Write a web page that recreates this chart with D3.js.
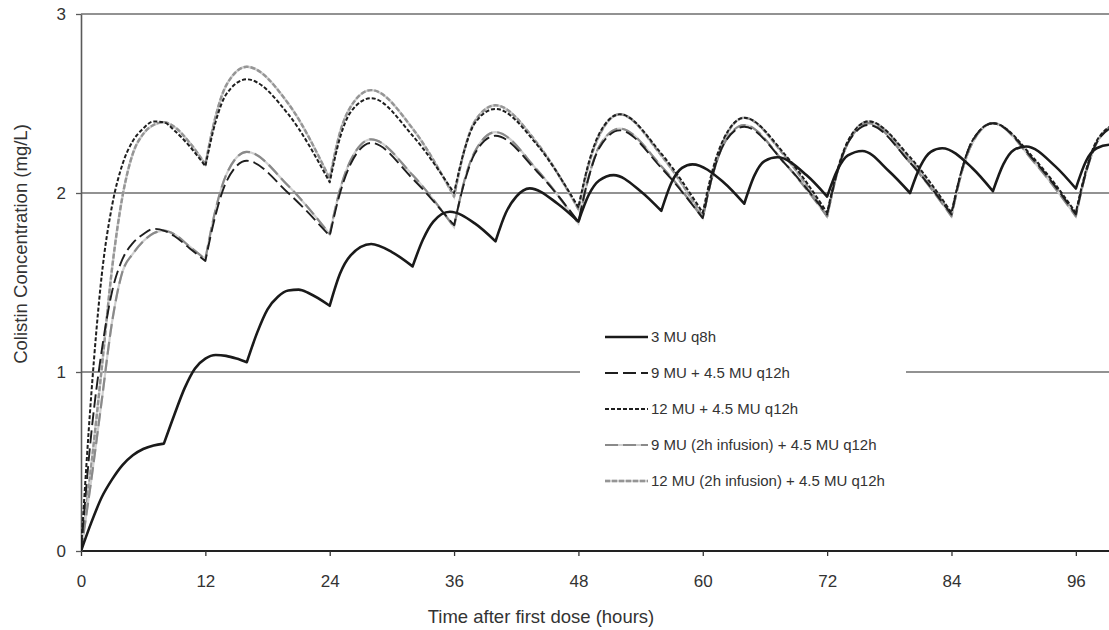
<!DOCTYPE html>
<html>
<head>
<meta charset="utf-8">
<script src="https://cdn.jsdelivr.net/npm/d3@7"></script>
<style>
  body { margin: 0; background: #fff; }
  svg { display: block; font-family: "Liberation Sans", Arial, sans-serif; }
</style>
</head>
<body>
<div id="chart"></div>
<script>
// 3 MU q8h
const timesQ8 = [0, 1, 2, 3, 4, 5, 6, 7, 8,
    9, 10, 11, 12, 13, 14, 15, 16,
    17, 18, 19, 20, 21, 22, 24,
    25, 26, 28, 30, 32,
    33, 34, 35.6, 38, 40,
    41, 42, 43.3, 46, 48,
    49, 50, 51.4, 54, 56,
    57, 58, 59, 62, 64,
    65, 66, 67.2, 70, 72,
    73, 74, 75.4, 78, 80,
    81, 82, 83.1, 86, 88,
    89, 90, 91.2, 94, 96,
    97, 98, 99.3, 100];
const conc3MU = [0, 0.16, 0.30, 0.40, 0.48, 0.535, 0.57, 0.59, 0.60,
    0.76, 0.91, 1.02, 1.075, 1.095, 1.09, 1.075, 1.055,
    1.22, 1.35, 1.42, 1.455, 1.46, 1.44, 1.37,
    1.55, 1.65, 1.715, 1.67, 1.59,
    1.74, 1.84, 1.895, 1.83, 1.73,
    1.89, 1.98, 2.026, 1.94, 1.84,
    1.99, 2.07, 2.10, 2.01, 1.90,
    2.06, 2.14, 2.16, 2.06, 1.94,
    2.10, 2.18, 2.20, 2.10, 1.98,
    2.13, 2.21, 2.235, 2.12, 2.00,
    2.15, 2.23, 2.25, 2.14, 2.01,
    2.16, 2.24, 2.26, 2.15, 2.025,
    2.18, 2.25, 2.27, 2.27];
const dosesQ8 = [8, 16, 24, 32, 40, 48, 56, 64, 72, 80, 88, 96];

// loading dose + 4.5 MU q12h
const timesQ12 = [0, 1, 2, 3, 4, 5, 6, 7, 8, 9, 10.5, 12,
    13, 14, 16, 20, 24,
    25, 26, 28, 32, 36,
    37, 38, 40, 44, 48,
    49, 50, 52, 56, 60,
    61, 62, 64, 68, 72,
    73, 74, 76, 80, 84,
    85, 86, 88, 92, 96,
    97, 98, 100];
const conc9MU = [0, 0.66, 1.12, 1.45, 1.63, 1.72, 1.77, 1.80, 1.79, 1.76, 1.69, 1.62,
    1.88, 2.06, 2.18, 2.00, 1.76,
    2.00, 2.16, 2.28, 2.08, 1.82,
    2.06, 2.22, 2.32, 2.12, 1.84,
    2.09, 2.25, 2.35, 2.14, 1.86,
    2.11, 2.27, 2.37, 2.16, 1.88,
    2.12, 2.28, 2.38, 2.17, 1.88,
    2.13, 2.29, 2.39, 2.18, 1.88,
    2.12, 2.28, 2.38];
const conc12MU = [0, 0.88, 1.54, 1.93, 2.16, 2.29, 2.36, 2.40, 2.395, 2.35, 2.26, 2.15,
    2.40, 2.55, 2.635, 2.44, 2.06,
    2.31, 2.45, 2.53, 2.32, 2.00,
    2.24, 2.39, 2.47, 2.27, 1.92,
    2.17, 2.33, 2.44, 2.22, 1.89,
    2.14, 2.30, 2.42, 2.21, 1.89,
    2.13, 2.29, 2.40, 2.20, 1.89,
    2.13, 2.29, 2.39, 2.19, 1.89,
    2.13, 2.29, 2.39];
const conc9MUInf = [0, 0.40, 0.84, 1.28, 1.56, 1.66, 1.73, 1.775, 1.79, 1.77, 1.70, 1.63,
    1.91, 2.10, 2.23, 2.04, 1.77,
    2.02, 2.18, 2.30, 2.10, 1.81,
    2.07, 2.23, 2.34, 2.13, 1.83,
    2.09, 2.26, 2.36, 2.15, 1.86,
    2.11, 2.27, 2.38, 2.16, 1.87,
    2.12, 2.28, 2.39, 2.17, 1.87,
    2.12, 2.28, 2.39, 2.17, 1.87,
    2.12, 2.28, 2.39];
const conc12MUInf = [0, 0.48, 1.02, 1.58, 1.98, 2.22, 2.33, 2.38, 2.395, 2.37, 2.28, 2.16,
    2.43, 2.60, 2.705, 2.50, 2.08,
    2.34, 2.48, 2.575, 2.36, 1.98,
    2.24, 2.40, 2.49, 2.28, 1.91,
    2.16, 2.32, 2.44, 2.21, 1.87,
    2.12, 2.29, 2.42, 2.20, 1.87,
    2.12, 2.28, 2.40, 2.19, 1.88,
    2.12, 2.28, 2.39, 2.18, 1.88,
    2.12, 2.28, 2.39];
const dosesQ12 = [12, 24, 36, 48, 60, 72, 84, 96];

const seriesNames = ["3 MU q8h", "9 MU + 4.5 MU q12h", "12 MU + 4.5 MU q12h",
    "9 MU (2h infusion) + 4.5 MU q12h", "12 MU (2h infusion) + 4.5 MU q12h"];
const xTicks = [0, 12, 24, 36, 48, 60, 72, 84, 96];
const yTicks = [0, 1, 2, 3];

const width = 1109, height = 630;
const margin = { top: 14, right: 0, bottom: 79, left: 81 };
const font = "Liberation Sans, Arial, sans-serif";

const svg = d3.select("#chart").append("svg")
    .attr("width", width)
    .attr("height", height);

const x = d3.scaleLinear().domain([0, 99.2]).range([margin.left, width - margin.right]);
const y = d3.scaleLinear().domain([0, 3]).range([height - margin.bottom, margin.top]);

// gridlines
svg.append("g").selectAll("line")
    .data(yTicks.filter(d => d > 0))
    .join("line")
    .attr("x1", x(0)).attr("x2", width)
    .attr("y1", d => y(d)).attr("y2", d => y(d))
    .attr("stroke", "#6e6e6e")
    .attr("stroke-width", 1.4);

// axes
const gy = svg.append("g")
    .attr("transform", `translate(${x(0)},0)`)
    .call(d3.axisLeft(y).tickValues(yTicks).tickFormat(d3.format("d")).tickSize(5).tickSizeOuter(0).tickPadding(10));
gy.select(".domain").attr("stroke", "#5a5a5a").attr("stroke-width", 1.6);
gy.selectAll(".tick line").attr("stroke", "#5a5a5a").attr("stroke-width", 1.3);
gy.selectAll("text").attr("font-size", 17).attr("fill", "#333").attr("font-family", font);

const gx = svg.append("g")
    .attr("transform", `translate(0,${y(0)})`)
    .call(d3.axisBottom(x).tickValues(xTicks).tickSize(5).tickSizeOuter(0).tickPadding(19));
gx.select(".domain").attr("d", `M${x(0)},0H${width}`).attr("stroke", "#222").attr("stroke-width", 1.8);
gx.selectAll(".tick line").attr("stroke", "#333").attr("stroke-width", 1.3);
gx.selectAll("text").attr("font-size", 17).attr("fill", "#333").attr("font-family", font);

// titles
svg.append("text")
    .attr("x", 541).attr("y", 623)
    .attr("text-anchor", "middle")
    .attr("font-size", 18.5).attr("fill", "#333")
    .text("Time after first dose (hours)");
svg.append("text")
    .attr("transform", "translate(27,244) rotate(-90)")
    .attr("text-anchor", "middle")
    .attr("font-size", 18.5).attr("fill", "#333")
    .text("Colistin Concentration (mg/L)");

// lines, split at each dose so troughs stay sharp
const line = d3.line()
    .x(d => x(d[0]))
    .y(d => y(d[1]))
    .curve(d3.curveMonotoneX);

const pathFor = (ts, cs, doses) => {
    const pts = ts.map((t, i) => [t, cs[i]]);
    const cuts = [0, ...doses, d3.max(ts)];
    return d3.pairs(cuts).map(([a, b], i) => {
        const p = line(pts.filter(d => d[0] >= a && d[0] <= b));
        return i ? p.replace(/^M/, "L") : p;
    }).join("");
};

const styles = [
    { color: "#1a1a1a", w: 2.6, dash: null },
    { color: "#1e1e1e", w: 1.9, dash: "13,5" },
    { color: "#1e1e1e", w: 2.0, dash: "4,2" },
    { color: "#8a8a8a", w: 2.2, dash: "13,5", under: "#d0d0d0" },
    { color: "#959595", w: 2.4, dash: "5,2", under: "#cfcfcf" },
];
const paths = [
    pathFor(timesQ8, conc3MU, dosesQ8),
    pathFor(timesQ12, conc9MU, dosesQ12),
    pathFor(timesQ12, conc12MU, dosesQ12),
    pathFor(timesQ12, conc9MUInf, dosesQ12),
    pathFor(timesQ12, conc12MUInf, dosesQ12),
];

svg.append("clipPath").attr("id", "plot")
    .append("rect").attr("x", x(0)).attr("y", 0).attr("width", width - x(0)).attr("height", y(0) + 1);

const gLines = svg.append("g").attr("clip-path", "url(#plot)");
[4, 3, 2, 1, 0].forEach(i => {
    const s = styles[i];
    if (s.under) {
        gLines.append("path")
            .attr("d", paths[i])
            .attr("fill", "none")
            .attr("stroke", s.under)
            .attr("stroke-width", s.w);
    }
    gLines.append("path")
        .attr("d", paths[i])
        .attr("fill", "none")
        .attr("stroke", s.color)
        .attr("stroke-width", s.w)
        .attr("stroke-dasharray", s.dash)
        .attr("stroke-linejoin", "round");
});

// legend
const legend = svg.append("g");
legend.append("rect")
    .attr("x", 580).attr("y", 322)
    .attr("width", 326).attr("height", 176)
    .attr("fill", "#fff");
const legRows = [337, 373, 409, 445, 481];
seriesNames.forEach((name, i) => {
    const s = styles[i];
    if (s.under) {
        legend.append("line")
            .attr("x1", 605).attr("x2", 648)
            .attr("y1", legRows[i]).attr("y2", legRows[i])
            .attr("stroke", s.under).attr("stroke-width", s.w);
    }
    legend.append("line")
        .attr("x1", 605).attr("x2", 648)
        .attr("y1", legRows[i]).attr("y2", legRows[i])
        .attr("stroke", s.color)
        .attr("stroke-width", s.w)
        .attr("stroke-dasharray", s.dash);
    legend.append("text")
        .attr("x", 651).attr("y", legRows[i] + 5)
        .attr("font-size", 15).attr("fill", "#333")
        .text(name);
});
</script>
</body>
</html>
